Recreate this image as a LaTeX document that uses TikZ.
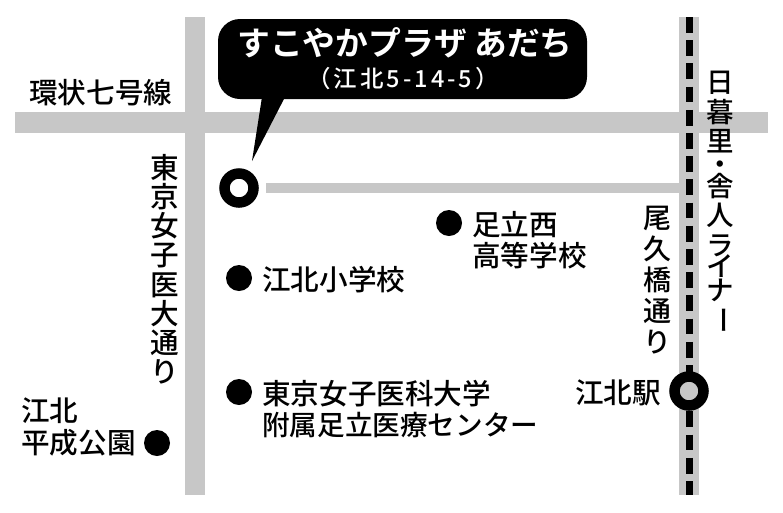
\documentclass[tikz,border=0pt]{standalone}
\usepackage{fontspec}
\setmainfont{Noto Sans CJK JP Medium}
\newfontfamily\jpbold{Noto Sans CJK JP Bold}
\newcommand{\vbar}{\rotatebox[origin=c]{-90}{ー}}
\newcommand{\fs}[1]{\fontsize{#1}{#1}\selectfont}
\begin{document}
\begin{tikzpicture}[x=1pt,y=-1pt,
  road/.style={fill=roadgray,draw=none},
  lbl/.style={inner sep=0pt,anchor=west,align=left,font=\fs{28.6},text=black},
  vlbl/.style={inner sep=0pt,anchor=north,align=center,font=\fontsize{28.6}{29.2}\selectfont,text=black},
  vlblw/.style={inner sep=0pt,anchor=north,align=center,font=\fontsize{28}{31}\selectfont,text=black},
  vlblb/.style={inner sep=0pt,anchor=north,align=center,font=\fontsize{27.5}{27}\selectfont,text=black},
  dot/.style={circle,fill=black,draw=none,minimum size=26pt,inner sep=0pt},
  ringmark/.style={circle,draw=black,line width=10.5pt,minimum size=29pt,inner sep=0pt}]
\lineskiplimit=-100pt\relax
\definecolor{roadgray}{gray}{0.78}
\useasboundingbox (0,0) rectangle (783,512);
\fill[white] (0,0) rectangle (783,512);
% roads
\path[road] (185,17) rectangle (205,495);
\path[road] (15,112) rectangle (768,132.7);
\path[road] (679.3,17) rectangle (699.3,495);
\coordinate (thinS) at (266,188.3);
\coordinate (thinE) at (680,188.3);
\draw[roadgray,line width=10pt] (thinS) -- (thinE);
% railway
\coordinate (railT) at (689.5,17);
\coordinate (railB) at (689.5,495);
\draw[black,line width=7.6pt,dash pattern=on 15.7pt off 7.5pt] (railT) -- (railB);
% callout
\fill[black,rounded corners=22pt] (218,19) rectangle (587,99);
\fill[black] (262,97) -- (285,97) -- (252,161) -- cycle;
\node[inner sep=0pt,text=white,font=\jpbold\fs{32.8}] (title) at (405,43) {すこやかプラザ あだち};
\node[inner sep=0pt,text=white,font=\fs{23.5}\addfontfeature{LetterSpace=13}] (addr) at (403,79) {（江北5-14-5）};
% site
\node[ringmark,fill=white] (site) at (239,188) {};
% station
\node[ringmark,fill=roadgray] (station) at (689,391) {};
% dots
\node[dot] (d1) at (449,223) {};
\node[dot] (d2) at (239,278) {};
\node[dot] (d3) at (239,392) {};
\node[dot] (d4) at (157,443) {};
% labels
\node[lbl] (l0) at (29,93) {環状七号線};
\node[lbl] (l1) at (472,240) {足立西\\[2pt]高等学校};
\node[lbl] (l2) at (262,280) {江北小学校};
\node[lbl] (l3) at (262,409) {東京女子医科大学\\[2pt]{\fs{27.6}附属足立医療センター}};
\node[lbl] (l4) at (21,427) {江北\\[3pt]平成公園};
\node[lbl] (l5) at (575,393) {江北駅};
\node[vlbl] (v1) at (165,154) {東\\京\\女\\子\\医\\大\\通\\り};
\node[vlblw] (v2) at (657,206) {尾\\久\\橋\\通\\り};
\node[vlblb] (v3) at (720,71) {日\\[2.5pt]暮\\[2.5pt]里\\[-4.5pt]・\\[-4.5pt]舎\\[1.5pt]人\\[3.5pt]ラ\\[-6pt]イ\\[-3pt]ナ\\[-1pt]\vbar};
\end{tikzpicture}
\end{document}
